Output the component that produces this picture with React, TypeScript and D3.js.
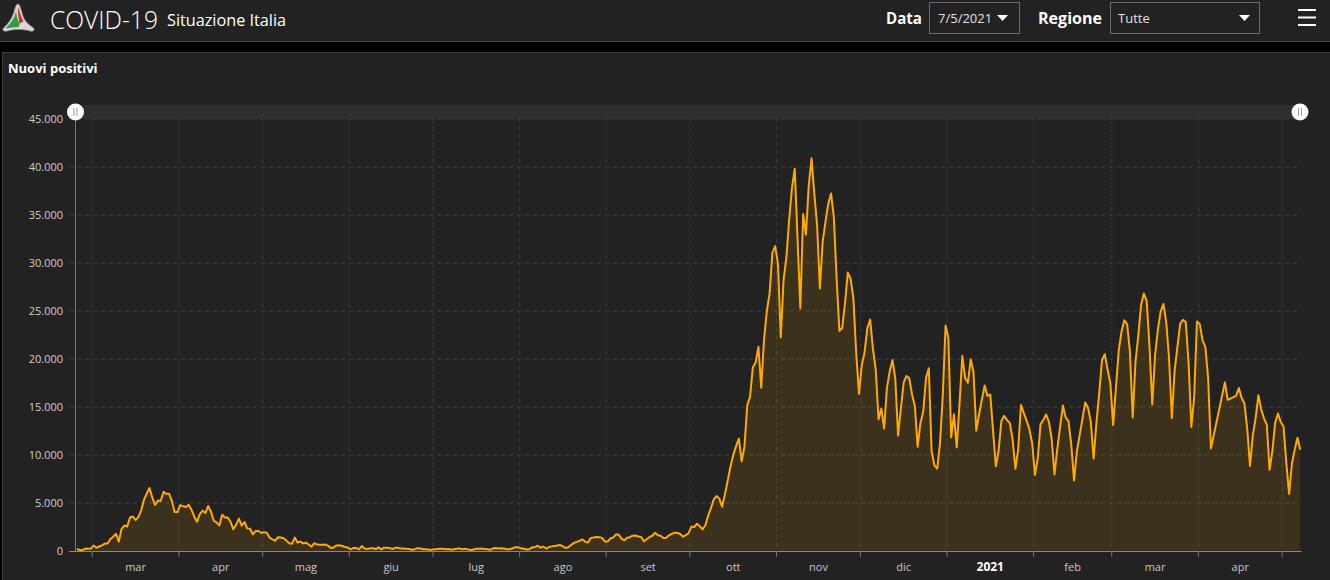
import React from "react";
import * as d3 from "d3";

// Nuovi positivi giornalieri (Italia), dal 24/02/2020 al 07/05/2021 — null = giorno mancante
const feb2020 = [221, 93, 78, 250, 238, 240];
const mar2020 = [566, 342, 466, 587, 769, 778, 1247, 1492, 1797, 977, 2313, 2651, 2547, 3497, 3590, 3233, 3526, 4207, 5322, 5986, 6557, 5560, 4789, 5249, 5210, 6153, 5959, 5974, 5217, 4050, 4053];
const apr2020 = [4782, 4668, 4585, 4805, 4316, 3599, 3039, 3836, 4204, 3951, 4694, 4092, 3153, 2972, 2667, 3786, 3493, 3491, 3047, 2256, 2729, 3370, 2646, 3021, 2357, 2324, 1739, 2091, 2086, 1872];
const may2020 = [1965, 1900, 1389, 1221, 1075, 1444, 1401, 1327, 1083, 802, 744, 1402, 888, 992, 789, 875, 675, 451, 813, 665, 642, 652, 669, 531, 300, 397, 584, 593, 516, 416, 355];
const jun2020 = [178, 318, 321, 177, 518, 270, 197, 280, 283, 202, 379, 163, 346, 338, 301, 210, 328, 333, 251, 262, 224, 218, 122, 190, 296, 259, 175, 174, 126, 142];
const jul2020 = [187, 201, 223, 235, 192, 208, 138, 193, 229, 276, 188, 234, 169, 114, 162, 230, 233, 249, 218, 190, 129, 282, 306, 252, 275, 255, 170, 181, 289, 386, 379];
const aug2020 = [295, 239, 159, 190, 384, 402, 552, 347, 463, 259, 412, 481, 523, 574, 629, 479, 320, 403, 642, 845, 947, 1071, 1210, 953, 878, 1367, 1411, 1462, 1444, 1365, 996];
const sep2020 = [978, 1326, 1397, 1733, 1695, 1297, 1108, 1370, 1434, 1597, 1616, 1501, 1458, 1008, 1229, 1452, 1585, 1907, 1638, 1587, 1350, 1392, 1640, 1786, 1912, 1869, 1766, 1494, 1648, 1851];
const oct2020 = [2548, 2499, 2844, 2578, 2257, 2677, 3678, 4458, 5372, 5724, 5456, 4619, 5901, 7332, 8804, 10010, 10925, 11705, 9338, 10874, 15199, 16079, 19143, 19644, 21273, 17012, 21994, 24991, 26831, 31084, 31758];
const nov2020 = [29907, 22253, 28244, 30550, 34505, 37809, 39811, 32616, 25271, 35098, 32961, 37978, 40902, 37255, 33979, 27354, 32191, 34283, 36176, 37242, 34767, 28337, 22930, 23232, 25853, 29003, 28352, 26323, 20648, 16377];
const dec2020 = [19350, 20709, 23225, 24099, 21052, 18887, 13720, 14842, 12756, 16999, 18727, 19903, 17938, 12030, 14844, 17572, 18236, 17992, 16308, 15104, 10872, 13318, 14522, 18040, 19037, 10407, 8913, 8585, 11212, 16202, 23477];
const jan2021 = [22211, 11831, 14245, 10800, 15378, 20331, 18020, 17533, 19978, 18627, 12532, 14242, 15774, 17246, 16146, 16310, 12545, 8824, 10497, 13571, 14078, 13633, 13331, 11629, 8561, 10593, 15204, 14372, 13574, 12715, 11252];
const feb2021 = [7925, 9660, 13189, 13659, 14218, 13442, 11641, 7970, 10630, 12956, 15146, 13908, 13532, 11068, 7351, 10386, 12074, 13762, 15479, 14931, 13452, 9630, 13314, 16424, 19886, 20499, 18916, 17455];
const mar2021 = [13114, 17083, 20884, 22865, 24036, 23641, 20765, 13902, 19749, 22409, 25673, 26824, 26062, 21315, 15267, 20396, 23059, 24935, 25735, 23832, 20159, 13846, 18765, 21267, 23696, 24076, 23839, 19611, 12916, 16017, 23904];
const apr2021 = [23649, 21932, 21261, 18025, 10680, null, null, null, null, 17567, 15746, null, null, 16168, 16974, 15943, 15370, 12694, 8864, 12074, 13844, 16232, 14761, 13817, 13158, 8444, 10404, 13385, 14320, 13446];
const may2021 = [12965, 9148, 5948, 9116, 10585, 11807, 10554];

const monthLabels = ["mar", "apr", "mag", "giu", "lug", "ago", "set", "ott", "nov", "dic", "2021", "feb", "mar", "apr"];
const yTickValues = [0, 5000, 10000, 15000, 20000, 25000, 30000, 35000, 40000, 45000];

const series: (number | null)[] = [
  ...feb2020, ...mar2020, ...apr2020, ...may2020, ...jun2020, ...jul2020, ...aug2020, ...sep2020,
  ...oct2020, ...nov2020, ...dec2020, ...jan2021, ...feb2021, ...mar2021, ...apr2021, ...may2021,
];

const FONT = "'Open Sans', 'Noto Sans', sans-serif";

const itFormat = d3.formatLocale({ decimal: ",", thousands: ".", grouping: [3], currency: ["€", ""] }).format(",d");

export default function App() {
  const W = 1330, H = 580;
  const x = d3.scaleTime().domain([new Date(2020, 1, 24), new Date(2021, 4, 8)]).range([75.5, 1301.7]);
  const y = d3.scaleLinear().domain([0, 45000]).range([551, 119]);

  const pts = series
    .map((v, i) => ({ date: new Date(2020, 1, 24 + i, 12), v }))
    .filter((d) => d.v !== null) as { date: Date; v: number }[];

  const line = d3.line<{ date: Date; v: number }>().x((d) => x(d.date)).y((d) => y(d.v));
  const area = d3.area<{ date: Date; v: number }>().x((d) => x(d.date)).y0(y(0)).y1((d) => y(d.v));

  const monthTicks = d3.timeMonth.range(new Date(2020, 2, 1), new Date(2021, 4, 2));
  const labelMonths = monthTicks.slice(0, monthLabels.length);

  const x0 = x.range()[0], x1 = x.range()[1];
  const gridColor = "#3d3d3d";

  return (
    <div style={{ position: "fixed", left: 0, top: 0, width: W, height: H, background: "#000" }}>
      <svg width={W} height={H} style={{ display: "block", fontFamily: FONT }}>
        {/* header */}
        <rect x={0} y={0} width={W} height={41} fill="#222222" />
        <line x1={0} x2={W} y1={41.5} y2={41.5} stroke="#4a4a4a" />
        {/* logo */}
        <g>
          <path d="M18,4 C20,4 21,10 23,16 C25,22 30,25.5 33,27.5 C35.5,29.5 33.5,32 30,31 C24,29 13,29 7.5,31 C3.5,32 1.5,29.5 4,27.5 C8,24 12.5,18 14.5,10 C15.5,6 16.5,4 18,4 Z" fill="#d8d8d8" stroke="#888" strokeWidth={0.8} />
          <path d="M18,6.5 C19.5,11 20.5,16 23.5,21.5 C22,22.5 20.5,23 19.5,23.5 C18.5,18 17.5,12 18,6.5 Z" fill="#d32f2f" />
          <path d="M16,11 C15,17 11,23.5 5.5,28.5 C10,27.5 14.5,27 19,27 L19.5,23.5 C17.5,20 16.3,15 16,11 Z" fill="#2f9e44" />
        </g>
        <text x={50} y={29} fill="#ffffff" fontSize={25} fontWeight={300} textLength={108} lengthAdjust="spacingAndGlyphs">COVID-19</text>
        <text x={167} y={26} fill="#ffffff" fontSize={16.5} textLength={119} lengthAdjust="spacingAndGlyphs">Situazione Italia</text>

        <text x={886} y={24} fill="#ffffff" fontSize={16} fontWeight={700} textLength={36} lengthAdjust="spacingAndGlyphs">Data</text>
        <rect x={929.5} y={2.5} width={90} height={31} fill="none" stroke="#6a6a6a" />
        <text x={938} y={23} fill="#e0e0e0" fontSize={13}>7/5/2021</text>
        <path d="M997,15 L1008,15 L1002.5,21 Z" fill="#ffffff" />

        <text x={1038} y={24} fill="#ffffff" fontSize={16} fontWeight={700} textLength={64} lengthAdjust="spacingAndGlyphs">Regione</text>
        <rect x={1110.5} y={2.5} width={149} height={31} fill="none" stroke="#6a6a6a" />
        <text x={1118} y={23} fill="#e0e0e0" fontSize={13}>Tutte</text>
        <path d="M1239,15 L1250,15 L1244.5,21 Z" fill="#ffffff" />

        {[10, 17.5, 25].map((yy) => (
          <line key={yy} x1={1298} x2={1316} y1={yy} y2={yy} stroke="#ffffff" strokeWidth={2} />
        ))}

        {/* panel */}
        <rect x={2.5} y={52.5} width={W} height={H} fill="#222222" stroke="#3c3c3c" />
        <text x={8} y={73} fill="#ffffff" fontSize={13} fontWeight={700}>Nuovi positivi</text>

        {/* scrollbar */}
        <rect x={x0} y={105} width={x1 - x0} height={14} fill="#2f2f2f" />

        {/* horizontal grid */}
        {yTickValues.filter((v) => v > 0).map((v) => (
          <line key={v} x1={69} x2={x1} y1={y(v)} y2={y(v)} stroke={gridColor} strokeDasharray="4,4" />
        ))}
        {/* vertical grid */}
        {monthTicks.map((d) => (
          <line key={+d} x1={x(d)} x2={x(d)} y1={y(45000)} y2={y(0)} stroke={gridColor} strokeDasharray="4,4" />
        ))}

        {/* series */}
        <path d={area(pts) || ""} fill="#ffa500" fillOpacity={0.12} />
        <path d={line(pts) || ""} fill="none" stroke="#ffaa00" strokeWidth={2} strokeLinejoin="round" />

        {/* axes */}
        <line x1={x0} x2={x0} y1={y(45000)} y2={y(0)} stroke="#777" />
        <line x1={69} x2={x1} y1={y(0) + 0.5} y2={y(0) + 0.5} stroke="#888" />
        {monthTicks.map((d) => (
          <line key={+d} x1={x(d)} x2={x(d)} y1={y(0)} y2={y(0) + 6} stroke="#777" />
        ))}
        {yTickValues.map((v) => (
          <text key={v} x={63} y={y(v) + 4} textAnchor="end" fill="#cfcfcf" fontSize={11}>{itFormat(v)}</text>
        ))}
        {labelMonths.map((d, i) => {
          const mid = new Date((+d + +d3.timeMonth.offset(d, 1)) / 2);
          const isYear = monthLabels[i] === "2021";
          return (
            <text key={+d} x={x(mid)} y={571} textAnchor="middle" fill={isYear ? "#ffffff" : "#c8c8c8"}
              fontSize={isYear ? 12 : 11} fontWeight={isYear ? 700 : 400}>{monthLabels[i]}</text>
          );
        })}

        {/* scrollbar handles */}
        {[x0, 1300].map((hx) => (
          <g key={hx}>
            <circle cx={hx} cy={112} r={8.5} fill="#ffffff" />
            <line x1={hx - 1.5} x2={hx - 1.5} y1={108} y2={116} stroke="#999" />
            <line x1={hx + 1.5} x2={hx + 1.5} y1={108} y2={116} stroke="#999" />
          </g>
        ))}
      </svg>
    </div>
  );
}
